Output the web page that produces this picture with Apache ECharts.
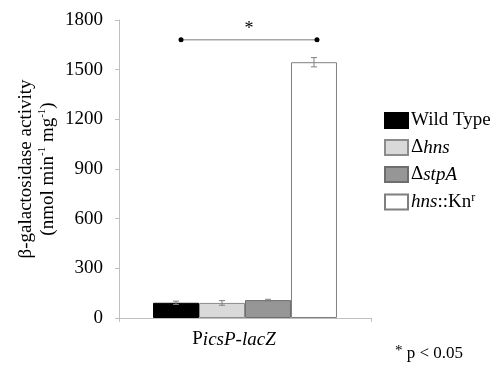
<!DOCTYPE html>
<html>
<head>
<meta charset="utf-8">
<script src="https://cdn.jsdelivr.net/npm/echarts@6/dist/echarts.min.js"></script>
<style>html,body{margin:0;padding:0;background:#fff}#c{width:495px;height:370px}</style>
</head>
<body>
<div id="c"></div>
<script>
// ---- data ----
var categories = ['PicsP-lacZ'];
var seriesNames = ['Wild Type', 'Δhns', 'ΔstpA', 'hns::Knr'];
var legendLabels = ['{n|Wild Type}', '{n|Δ}{i|hns}', '{n|Δ}{i|stpA}', '{i|hns}{n|::Kn}{s|r}'];
var means = [92, 91, 108, 1545];
var errors = [10, 14, 5, 28];
var yTicks = [0, 300, 600, 900, 1200, 1500, 1800];
var sigFrom = 0, sigTo = 3, sigValue = 1680, sigMark = '*';
var footnote = '* p < 0.05';

var FONT = '"Liberation Serif", "DejaVu Serif", serif';
var fills = ['#000000', '#d9d9d9', '#969696', '#ffffff'];
var borders = ['#000000', '#8c8c8c', '#6e6e6e', '#7f7f7f'];
var GAP = 0.27;

var chart = echarts.init(document.getElementById('c'), null, {renderer: 'canvas'});

function barCenter(api, idx) {
  var c = api.coord([0, 0])[0];
  var band = api.size([1, 0])[0];
  var w = band * (1 - GAP) / seriesNames.length;
  return c - w * seriesNames.length / 2 + (idx + 0.5) * w;
}

var series = seriesNames.map(function (n, i) {
  return {
    name: n, type: 'bar',
    data: [means[i]],
    barGap: '0%', barCategoryGap: (GAP * 100) + '%',
    itemStyle: {color: fills[i], borderColor: borders[i], borderWidth: 1},
    emphasis: {disabled: true}
  };
});

series.push({
  type: 'custom', silent: true, z: 5,
  data: seriesNames.map(function (n, i) { return [i, means[i], errors[i]]; }),
  renderItem: function (params, api) {
    var i = api.value(0);
    var x = barCenter(api, i);
    var hi = api.coord([0, api.value(1) + api.value(2)])[1];
    var lo = api.coord([0, api.value(1) - api.value(2)])[1];
    var st = {stroke: '#808080', lineWidth: 1};
    return {type: 'group', children: [
      {type: 'line', shape: {x1: x, y1: hi, x2: x, y2: lo}, style: st},
      {type: 'line', shape: {x1: x - 3, y1: hi, x2: x + 3, y2: hi}, style: st},
      {type: 'line', shape: {x1: x - 3, y1: lo, x2: x + 3, y2: lo}, style: st}
    ]};
  }
});

series.push({
  type: 'custom', silent: true, z: 6,
  data: [[sigFrom, sigTo, sigValue]],
  renderItem: function (params, api) {
    var x1 = barCenter(api, api.value(0)) + 5;
    var x2 = barCenter(api, api.value(1)) + 3;
    var y = api.coord([0, api.value(2)])[1];
    return {type: 'group', children: [
      {type: 'line', shape: {x1: x1, y1: y, x2: x2, y2: y}, style: {stroke: '#a6a6a6', lineWidth: 1.5}},
      {type: 'circle', shape: {cx: x1, cy: y, r: 2.5}, style: {fill: '#000'}},
      {type: 'circle', shape: {cx: x2, cy: y, r: 2.5}, style: {fill: '#000'}},
      {type: 'text', style: {text: sigMark, x: (x1 + x2) / 2, y: y - 2, align: 'center', verticalAlign: 'bottom', font: '18px ' + FONT, fill: '#000'}}
    ]};
  }
});

chart.setOption({
  animation: false,
  grid: {left: 119, right: 124, top: 20, bottom: 52, containLabel: false},
  legend: {
    orient: 'vertical', left: 379, top: 106,
    itemWidth: 23, itemHeight: 15, itemGap: 8,
    icon: 'rect', selectedMode: false,
    data: seriesNames,
    formatter: function (name) { return legendLabels[seriesNames.indexOf(name)]; },
    textStyle: {
      padding: [0, 0, 0, -2],
      rich: {
        n: {fontFamily: FONT, fontSize: 19, color: '#000'},
        i: {fontFamily: FONT, fontSize: 19, fontStyle: 'italic', color: '#000'},
        s: {fontFamily: FONT, fontSize: 12, color: '#000', padding: [0, 0, 8, 0]}
      }
    }
  },
  xAxis: {
    type: 'category', data: categories,
    axisLine: {lineStyle: {color: '#bfbfbf', width: 1}},
    axisTick: {show: true, length: 4, lineStyle: {color: '#bfbfbf'}},
    axisLabel: {
      margin: 12,
      padding: [0, 22, 0, 0],
      formatter: function (v) { return '{n|' + v.charAt(0) + '}{i|' + v.slice(1) + '}'; },
      rich: {
        n: {fontFamily: FONT, fontSize: 19, color: '#000'},
        i: {fontFamily: FONT, fontSize: 19, fontStyle: 'italic', color: '#000'}
      }
    }
  },
  yAxis: {
    type: 'value', min: yTicks[0], max: yTicks[yTicks.length - 1], interval: yTicks[1] - yTicks[0],
    splitLine: {show: false},
    axisLine: {show: true, lineStyle: {color: '#bfbfbf', width: 1}},
    axisTick: {show: true, length: 4, lineStyle: {color: '#bfbfbf'}},
    axisLabel: {margin: 16, fontFamily: FONT, fontSize: 19, color: '#000', formatter: function (v) { return String(v); }},
    name: '{a|β-galactosidase activity}\n{a|(nmol min}{s|-1}{a| mg}{s|-1}{a|)}',
    nameLocation: 'middle', nameRotate: 90, nameGap: 60, nameMoveOverlap: false,
    nameTextStyle: {
      lineHeight: 22,
      rich: {
        a: {fontFamily: FONT, fontSize: 19, color: '#000', lineHeight: 22},
        s: {fontFamily: FONT, fontSize: 11, color: '#000', verticalAlign: 'top', lineHeight: 22, padding: [0, 0, 8, 0]}
      }
    }
  },
  graphic: [{
    type: 'text', left: 395, top: 344,
    style: {
      text: '{s|*}{n|' + footnote.slice(1) + '}',
      rich: {
        n: {fontFamily: FONT, fontSize: 17, fill: '#000'},
        s: {fontFamily: FONT, fontSize: 15, fill: '#000', verticalAlign: 'top', padding: [0, 0, 5, 0]}
      }
    }
  }],
  series: series
});
</script>
</body>
</html>
